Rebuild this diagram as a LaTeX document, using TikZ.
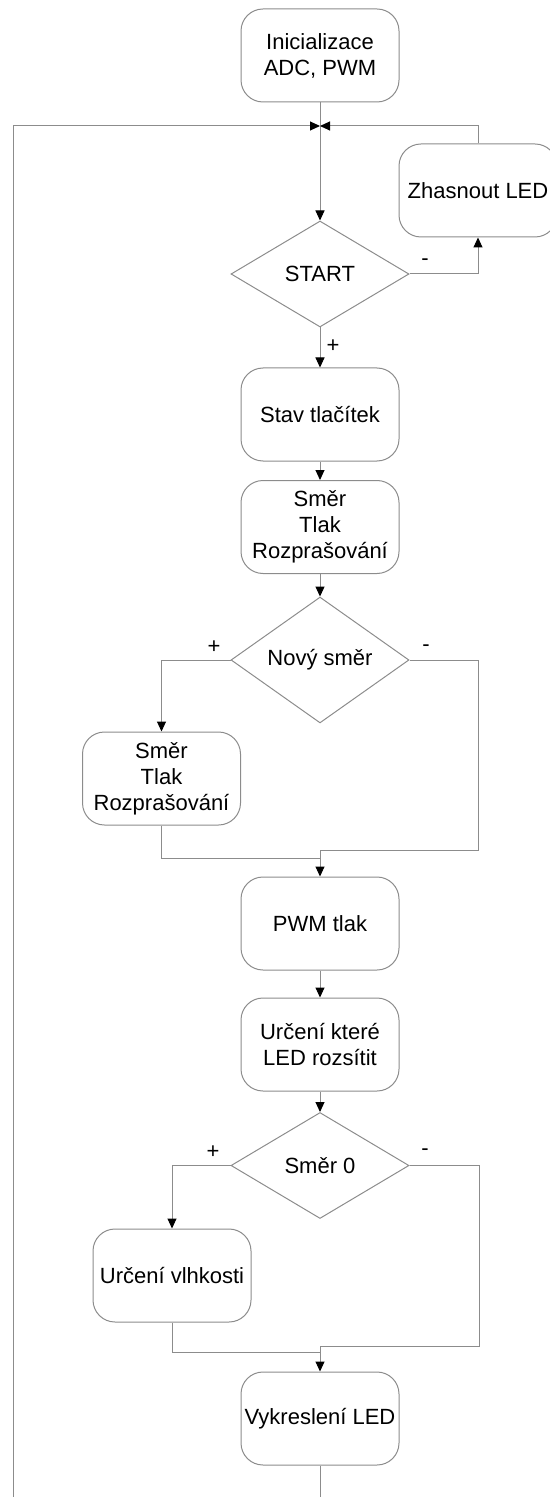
\documentclass[tikz,border=0pt]{standalone}
\usepackage{fontspec}
\setmainfont{Liberation Sans}
\usetikzlibrary{shapes.geometric,arrows.meta}
\definecolor{linegray}{RGB}{140,140,140}

\begin{document}
\begin{tikzpicture}[x=0.5pt,y=-0.5pt,
  box/.style={draw=linegray, line width=0.5pt, rounded corners=11pt, minimum width=79pt, minimum height=46.5pt, inner sep=1pt, align=center, font=\fontsize{11}{13}\selectfont},
  cond/.style={draw=linegray, line width=0.5pt, diamond, minimum width=89pt, minimum height=53pt, inner sep=0pt, font=\fontsize{11}{13}\selectfont},
  lbl/.style={inner sep=0pt, font=\fontsize{11}{13}\selectfont},
  line/.style={draw=linegray, line width=0.5pt},
  arr/.style={line, -{Triangle[width=4.5pt,length=5pt,color=black]}}]
\useasboundingbox (0,0) rectangle (550,1497);
\node[box] (init) at (320,55.5){Inicializace\\ADC, PWM};
\coordinate (junc) at (320,126);
\node[cond] (start) at (320,274){START};
\node[box] (zhas) at (478,190.5){Zhasnout LED};
\node[box] (stav) at (320,414.5){Stav tla\v{c}\'itek};
\node[box] (smer) at (320,527){Sm\v{e}r\\Tlak\\Rozpra\v{s}ov\'an\'i};
\node[cond] (novy) at (320,660){Nov\'y sm\v{e}r};
\node[box] (smer2) at (161.5,778.5){Sm\v{e}r\\Tlak\\Rozpra\v{s}ov\'an\'i};
\coordinate (m1r) at (478,850);
\coordinate (m1c) at (320,850);
\coordinate (m1l) at (320,858);
\node[box] (pwm) at (320,923.5){PWM tlak};
\node[box] (urc) at (320,1044.5){Ur\v{c}en\'i kter\'e\\LED rozs\'itit};
\node[cond] (smer0) at (320,1165.5){Sm\v{e}r 0};
\node[box] (vlhk) at (172,1275.5){Ur\v{c}en\'i vlhkosti};
\coordinate (m2r) at (479,1346);
\coordinate (m2c) at (320,1346);
\coordinate (m2l) at (320,1352);
\node[box] (vykr) at (320,1418.5){Vykreslen\'i LED};
\coordinate (endb) at (320,1497);
\coordinate (loopb) at (13,1497);
% labels
\node[lbl] (p0) at (333,346){+};
\node[lbl] (n0) at (425,262){-};
\node[lbl] (p1) at (214,647){+};
\node[lbl] (n1) at (426,648){-};
\node[lbl] (p2) at (213,1152){+};
\node[lbl] (n2) at (425,1152){-};
% connectors
\draw[arr] (init) -- (start);
\draw[arr] (loopb) |- (junc);
\draw[arr] (zhas.north) |- (junc);
\draw[arr] (start.east) -| (zhas.south);
\draw[arr] (start) -- (stav);
\draw[arr] (stav) -- (smer);
\draw[arr] (smer) -- (novy);
\draw[arr] (novy.west) -| (smer2.north);
\draw[arr] (novy.east) -| (m1r) -- (m1c) -- (pwm);
\draw[line] (smer2.south) |- (m1l);
\draw[arr] (pwm) -- (urc);
\draw[arr] (urc) -- (smer0);
\draw[arr] (smer0.west) -| (vlhk.north);
\draw[arr] (smer0.east) -| (m2r) -- (m2c) -- (vykr);
\draw[line] (vlhk.south) |- (m2l);
\draw[line] (vykr) -- (endb);

\end{tikzpicture}
\end{document}
